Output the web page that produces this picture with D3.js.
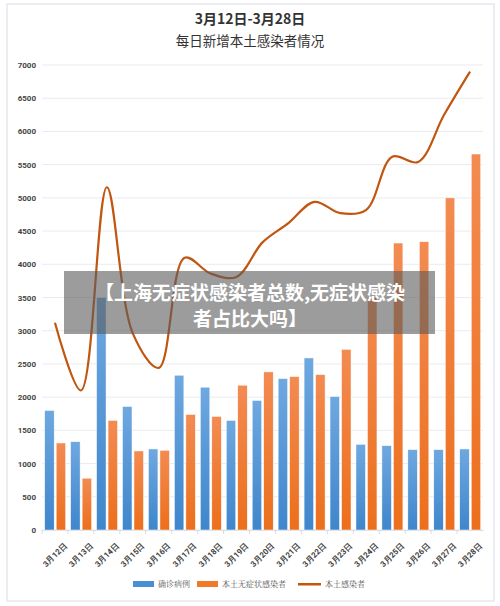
<!DOCTYPE html><html><head><meta charset="utf-8"><script src="https://d3js.org/d3.v7.min.js"></script>
<style>body{margin:0;background:#fff}svg{display:block}</style></head><body><svg id="c" width="500" height="606"></svg>
<script>
const categories=["3月12日","3月13日","3月14日","3月15日","3月16日","3月17日","3月18日","3月19日","3月20日","3月21日","3月22日","3月23日","3月24日","3月25日","3月26日","3月27日","3月28日"];
const confirmed=[1800,1330,3500,1860,1220,2330,2150,1650,1950,2280,2590,2010,1290,1270,1210,1210,1220];
const asymptomatic=[1310,780,1650,1190,1200,1740,1710,2180,2380,2310,2340,2720,3500,4320,4340,5000,5660];
const total=[3120,2100,5160,2960,2440,4100,3860,3810,4330,4620,4940,4770,4820,5620,5540,6250,6900];
const yTicks=[0,500,1000,1500,2000,2500,3000,3500,4000,4500,5000,5500,6000,6500,7000];
const svg=d3.select("#c");
svg.append("rect").attr("x",7).attr("y",4).attr("width",487).attr("height",597).attr("fill","#fff").attr("stroke","#e6e8ee").attr("stroke-width",1.5);
const x=d3.scaleBand().domain(categories).range([42,483]).paddingInner(0);
const y=d3.scaleLinear().domain([0,7000]).range([530,65]);
const defs=svg.append("defs");
function grad(id,c1,c2){const g=defs.append("linearGradient").attr("id",id).attr("x1",0).attr("y1",0).attr("x2",0).attr("y2",1);g.append("stop").attr("offset",0).attr("stop-color",c1);g.append("stop").attr("offset",1).attr("stop-color",c2);}
grad("gb","#6ea8e0","#3f86cc");grad("go","#f38b52","#ec6f1c");
svg.append("g").selectAll("line").data(yTicks).join("line").attr("x1",42).attr("x2",483).attr("y1",d=>y(d)).attr("y2",d=>y(d)).attr("stroke","#e8ebf1").attr("stroke-width",1);
const ya=svg.append("g").attr("transform","translate(42,0)").call(d3.axisLeft(y).tickValues(yTicks).tickFormat(d3.format("d")).tickSize(0).tickPadding(6));
ya.select(".domain").remove();
ya.selectAll("text").attr("font-family","Roboto,Arial,sans-serif").attr("font-weight","bold").attr("font-size",8).attr("fill","#444");
const xa=svg.append("g").attr("transform","translate(0,530)").call(d3.axisBottom(x).tickSize(4).tickSizeOuter(0));
xa.select(".domain").attr("stroke","#d8dce4");xa.selectAll(".tick line").attr("stroke","#d8dce4").attr("transform",`translate(${-x.bandwidth()/2},0)`);
xa.selectAll("text").attr("font-family","Roboto,Arial,sans-serif").attr("font-weight","bold").attr("font-size",8).attr("fill","#444").attr("text-anchor","end").attr("transform","translate(4,8) rotate(-45)").attr("dy","0.6em");
const bw=9.5;
svg.append("g").selectAll("rect").data(categories).join("rect").attr("x",d=>x(d)+x.bandwidth()/2-bw-0.8).attr("width",bw).attr("y",(d,i)=>y(confirmed[i])).attr("height",(d,i)=>530-y(confirmed[i])).attr("fill","url(#gb)").attr("stroke","#fff").attr("stroke-width",0.5);
svg.append("g").selectAll("rect").data(categories).join("rect").attr("x",d=>x(d)+x.bandwidth()/2+1.2).attr("width",bw).attr("y",(d,i)=>y(asymptomatic[i])).attr("height",(d,i)=>530-y(asymptomatic[i])).attr("fill","url(#go)").attr("stroke","#fff").attr("stroke-width",0.5);
const line=d3.line().x((d,i)=>x(categories[i])+x.bandwidth()/2).y(d=>y(d)).curve(d3.curveCatmullRom.alpha(0.5));
svg.append("path").attr("d",line(total)).attr("fill","none").attr("stroke","#c0560f").attr("stroke-width",2.2);
svg.append("text").attr("x",250).attr("y",24).attr("text-anchor","middle").attr("font-family","Noto Sans CJK SC").attr("font-weight","bold").attr("font-size",14).attr("fill","#333").text("3月12日-3月28日");
svg.append("text").attr("x",250).attr("y",46).attr("text-anchor","middle").attr("font-family","Noto Sans CJK SC").attr("font-size",13.5).attr("fill","#333").text("每日新增本土感染者情况");
const lg=svg.append("g").attr("font-family","Noto Serif CJK SC,Noto Sans CJK SC").attr("font-size",8).attr("fill","#555");
const items=[["确诊病例","#4a8fd6","r",133],["本土无症状感染者","#ef7a2a","r",197],["本土感染者","#c0560f","l",298]];
items.forEach(([t,c,k,lx])=>{if(k=="r")lg.append("rect").attr("x",lx).attr("y",581).attr("width",21).attr("height",6).attr("fill",c);else lg.append("rect").attr("x",lx).attr("y",583).attr("width",23).attr("height",2.5).attr("fill",c);lg.append("text").attr("x",lx+(k=="r"?25:27)).attr("y",587).text(t);});
svg.append("rect").attr("x",64).attr("y",271).attr("width",371).attr("height",63).attr("fill","rgba(90,90,90,0.6)");
const ot=svg.append("g").attr("font-family","Noto Sans CJK SC").attr("font-weight","bold").attr("font-size",19).attr("fill","#fff").attr("text-anchor","middle");
ot.append("text").attr("x",250).attr("y",300).text("【上海无症状感染者总数,无症状感染");
ot.append("text").attr("x",250).attr("y",326).text("者占比大吗】");
</script></body></html>
